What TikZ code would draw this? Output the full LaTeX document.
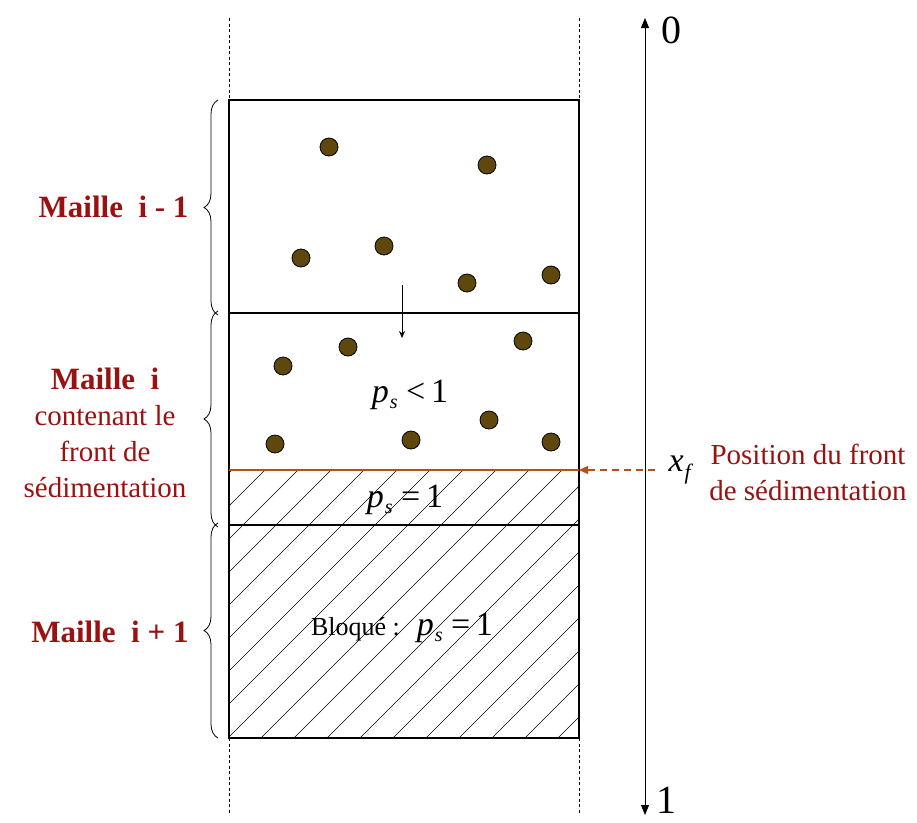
\documentclass[tikz,border=0pt]{standalone}
\usepackage{fontspec}
\setmainfont{Liberation Serif}
\usetikzlibrary{arrows.meta,positioning,decorations.pathreplacing}
\definecolor{bordeaux}{RGB}{153,17,17}
\definecolor{rouille}{RGB}{178,80,30}
\definecolor{brunGrain}{RGB}{94,72,14}
\newcommand{\pes}{\textit{p}\kern1pt\raisebox{-0.4ex}{\fontsize{20}{20}\selectfont\textit{s}}}

\begin{document}
\begin{tikzpicture}[x=1pt, y=-1pt,
    grain/.style={circle, draw=black, line width=0.8pt, fill=brunGrain, minimum size=18pt, inner sep=0pt},
    cadre/.style={line width=1.6pt},
    guide/.style={dash pattern=on 3pt off 2.5pt, line width=0.6pt},
    hachure/.style={line width=0.6pt},
    maille/.style={text=bordeaux, font=\fontsize{31}{36}\selectfont\bfseries},
    legende/.style={text=bordeaux, font=\fontsize{29}{36}\selectfont, align=center},
    accolade/.style={decorate, decoration={brace, amplitude=14pt}, line width=0.8pt},
    etiq/.style={font=\fontsize{34}{38}\selectfont},
    borne/.style={font=\fontsize{40}{44}\selectfont}
  ]
  \useasboundingbox (0,0) rectangle (917,822);

  % points of the column
  \coordinate (nw) at (229,100);
  \coordinate (ne) at (579,100);
  \coordinate (m1w) at (229,313);
  \coordinate (m1e) at (579,313);
  \coordinate (fw) at (229,470);
  \coordinate (fe) at (579,470);
  \coordinate (m2w) at (229,525);
  \coordinate (m2e) at (579,525);
  \coordinate (sw) at (229,738);
  \coordinate (se) at (579,738);

  % hatched part
  \begin{scope}
    \clip (fw) rectangle (se);
    \foreach \a in {-36,-3,...,580}
      \draw[hachure] (\a,738) -- ++(268,-268);
  \end{scope}

  % guides
  \coordinate (gwt) at (229,18);
  \coordinate (gwb) at (229,815);
  \coordinate (get) at (579,18);
  \coordinate (geb) at (579,815);
  \draw[guide] (gwt) -- (nw);
  \draw[guide] (sw) -- (gwb);
  \draw[guide] (get) -- (ne);
  \draw[guide] (se) -- (geb);

  % cells
  \draw[cadre] (nw) rectangle (se);
  \draw[cadre] (m1w) -- (m1e);
  \draw[cadre] (m2w) -- (m2e);
  \draw[rouille, line width=1.5pt] (fw) -- (fe);

  % grains
  \foreach \x/\y [count=\k] in {329/147, 487/165, 301/258, 384/246, 467/283, 551/275,
      283/366, 348/347, 523/341, 275/444, 411/440, 489/420, 551/442}
    \node[grain] (g\k) at (\x,\y) {};

  \coordinate (chute1) at (402,285);
  \coordinate (chute2) at (402,338);
  \draw[line width=0.8pt, -{Stealth[length=7pt, width=6pt]}] (chute1) -- (chute2);

  % texts in the column
  \node[etiq] (psmoins) at (410,395) {\pes\ <\,1};
  \node[etiq] (psun) at (405,500) {\pes\ =\,1};
  \node[etiq] (bloque) at (402,628) {{\fontsize{26}{30}\selectfont Bloqué :}\ \ \pes\ =\,1};

  % axis
  \coordinate (axh) at (645,18);
  \coordinate (axb) at (645,815);
  \draw[line width=0.8pt, {Triangle[length=10pt, width=8pt]}-{Triangle[length=10pt, width=8pt]}] (axh) -- (axb);
  \node[borne] (zero) at (671,30) {0};
  \node[borne] (un) at (666,800) {1};

  % front position
  \coordinate (fdep) at (655,470);
  \draw[rouille, line width=1.3pt, dash pattern=on 7pt off 5pt, -{Triangle[length=9pt, width=8pt]}] (fdep) -- (fe);
  \node[etiq, right=10pt of fdep] (xf) {\textit{x}\kern1pt\raisebox{-0.5ex}{\fontsize{22}{22}\selectfont\textit{f}}};
  \node[legende] (pos) at (808,472) {Position du front\\de sédimentation};

  % braces and cell names
  \draw[accolade] ([xshift=-11pt, yshift=-2pt]m1w) -- ([xshift=-11pt]nw);
  \draw[accolade] ([xshift=-11pt, yshift=-2pt]m2w) -- ([xshift=-11pt, yshift=2pt]m1w);
  \draw[accolade] ([xshift=-11pt]sw) -- ([xshift=-11pt, yshift=2pt]m2w);
  \node[maille, anchor=east] (nom1) at (192,207) {Maille\hspace{0.5em}i - 1};
  \node[legende] (nom2) at (105,433) {{\fontsize{31}{36}\selectfont\bfseries Maille\hspace{0.5em}i}\\contenant le\\front de\\sédimentation};
  \node[maille, anchor=east] (nom3) at (192,632) {Maille\hspace{0.5em}i + 1};
\end{tikzpicture}
\end{document}
